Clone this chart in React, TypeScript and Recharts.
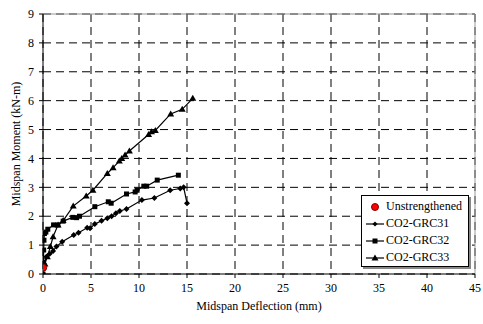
import { LineChart, Line, XAxis, YAxis, CartesianGrid, ReferenceLine, Label } from 'recharts'

const FONT = '"Liberation Serif", "Times New Roman", serif'

const xTicks = [0, 5, 10, 15, 20, 25, 30, 35, 40, 45]
const yTicks = [0, 1, 2, 3, 4, 5, 6, 7, 8, 9]

const unstrX = [0.02]
const unstrY = [0.22]

const grc31X = [0, 0.1, 0.35, 0.7, 1.05, 1.4, 2.0, 3.2, 3.7, 4.6, 4.9, 5.4, 6.1, 6.7, 7.15, 7.6, 8.0, 8.7, 10.3, 11.6, 13.25, 14.3, 14.65, 15.0]
const grc31Y = [0, 0.35, 0.6, 0.7, 0.8, 0.95, 1.12, 1.35, 1.43, 1.6, 1.58, 1.73, 1.84, 1.93, 2.0, 2.1, 2.18, 2.25, 2.56, 2.63, 2.9, 2.96, 3.0, 2.45]

const grc32X = [0, 0.05, 0.07, 0.1, 0.15, 0.3, 0.5, 1.1, 1.55, 2.1, 3.1, 3.5, 3.8, 5.4, 6.8, 7.1, 8.7, 9.6, 9.8, 10.5, 10.8, 11.9, 14.1]
const grc32Y = [0, 0.4, 0.83, 1.17, 1.4, 1.45, 1.55, 1.7, 1.7, 1.83, 1.96, 1.95, 2.0, 2.33, 2.5, 2.45, 2.77, 2.84, 2.9, 3.04, 3.04, 3.25, 3.42]

const grc33X = [0, 0.2, 0.45, 0.77, 1.05, 1.57, 2.1, 3.15, 4.5, 5.2, 6.7, 7.3, 7.95, 8.2, 8.55, 9.0, 11.0, 11.3, 11.7, 13.3, 14.5, 15.6]
const grc33Y = [0, 0.35, 0.6, 0.95, 1.29, 1.7, 1.85, 2.35, 2.7, 2.9, 3.48, 3.68, 3.91, 4.0, 4.12, 4.26, 4.83, 4.92, 4.97, 5.54, 5.7, 6.08]

const toPoints = (xs: number[], ys: number[]) => xs.map((x, i) => ({ x, y: ys[i] }))

const unstr = toPoints(unstrX, unstrY)
const grc31 = toPoints(grc31X, grc31Y)
const grc32 = toPoints(grc32X, grc32Y)
const grc33 = toPoints(grc33X, grc33Y)

const Diamond = (props: any) => {
  const { cx, cy } = props
  if (cx == null || cy == null) return null
  return <path d={`M${cx},${cy - 3} L${cx + 3},${cy} L${cx},${cy + 3} L${cx - 3},${cy} Z`} fill="#000" />
}

const Square = (props: any) => {
  const { cx, cy } = props
  if (cx == null || cy == null) return null
  return <rect x={cx - 2.5} y={cy - 2.5} width={5} height={5} fill="#000" />
}

const Triangle = (props: any) => {
  const { cx, cy } = props
  if (cx == null || cy == null) return null
  return <path d={`M${cx},${cy - 3.5} L${cx + 3.5},${cy + 2.5} L${cx - 3.5},${cy + 2.5} Z`} fill="#000" />
}

const RedDot = (props: any) => {
  const { cx, cy } = props
  if (cx == null || cy == null) return null
  return <circle cx={cx} cy={cy} r={3.5} fill="#ff0000" stroke="#800000" strokeWidth={1} />
}

const legendItems = [
  { name: 'Unstrengthened', kind: 'circle' },
  { name: 'CO2-GRC31', kind: 'diamond' },
  { name: 'CO2-GRC32', kind: 'square' },
  { name: 'CO2-GRC33', kind: 'triangle' },
]

function LegendIcon({ kind }: { kind: string }) {
  return (
    <svg width={20} height={10} style={{ display: 'block' }}>
      {kind !== 'circle' && <line x1={1} y1={5} x2={19} y2={5} stroke="#000" strokeWidth={1.2} />}
      {kind === 'circle' && <circle cx={10} cy={5} r={3.5} fill="#ff0000" stroke="#800000" />}
      {kind === 'diamond' && <path d="M10,2.5 L12.5,5 L10,7.5 L7.5,5 Z" fill="#000" />}
      {kind === 'square' && <rect x={7.5} y={2.5} width={5} height={5} fill="#000" />}
      {kind === 'triangle' && <path d="M10,1.5 L13.5,7.5 L6.5,7.5 Z" fill="#000" />}
    </svg>
  )
}

const tickStyle = { fontSize: 12, fill: '#000', fontFamily: FONT }

export default function App() {
  return (
    <div style={{ position: 'absolute', left: 0, top: 0, width: 483, height: 324, background: '#fff' }}>
      <LineChart width={483} height={324} margin={{ top: 14, right: 8, left: 0, bottom: 0 }}>
        <CartesianGrid stroke="#000" strokeDasharray="8 5" strokeWidth={1} />
        <XAxis
          type="number"
          dataKey="x"
          domain={[0, 45]}
          ticks={xTicks}
          interval={0}
          height={50}
          tick={tickStyle}
          tickSize={4}
          tickMargin={5}
          axisLine={{ stroke: '#000' }}
          tickLine={{ stroke: '#000' }}
          allowDataOverflow
        >
          <Label value="Midspan Deflection (mm)" position="insideBottom" offset={14} style={{ fontSize: 12, fill: '#000', fontFamily: FONT }} />
        </XAxis>
        <YAxis
          type="number"
          domain={[0, 9]}
          ticks={yTicks}
          interval={0}
          width={43}
          tick={tickStyle}
          tickSize={4}
          tickMargin={5}
          axisLine={{ stroke: '#000' }}
          tickLine={{ stroke: '#000' }}
          allowDataOverflow
        >
          <Label value="Midspan Moment (kN-m)" angle={-90} position="center" dx={-6} style={{ fontSize: 12, fill: '#000', fontFamily: FONT, textAnchor: 'middle' }} />
        </YAxis>
        <ReferenceLine y={9} stroke="#999" strokeWidth={1} />
        <ReferenceLine x={45} stroke="#999" strokeWidth={1} />
        <Line data={grc31} dataKey="y" name="CO2-GRC31" stroke="#000" strokeWidth={1.2} dot={<Diamond />} activeDot={false} isAnimationActive={false} />
        <Line data={grc32} dataKey="y" name="CO2-GRC32" stroke="#000" strokeWidth={1.2} dot={<Square />} activeDot={false} isAnimationActive={false} />
        <Line data={grc33} dataKey="y" name="CO2-GRC33" stroke="#000" strokeWidth={1.2} dot={<Triangle />} activeDot={false} isAnimationActive={false} />
        <Line data={unstr} dataKey="y" name="Unstrengthened" stroke="none" dot={<RedDot />} activeDot={false} isAnimationActive={false} />
      </LineChart>
      <div
        style={{
          position: 'absolute',
          left: 361,
          top: 195,
          width: 108,
          height: 72,
          background: '#fff',
          border: '1px solid #000',
          boxShadow: '2px 2px 0 #888',
          fontFamily: FONT,
          fontSize: 12,
          padding: '2px 0 0 3px',
          boxSizing: 'border-box',
        }}
      >
        {legendItems.map((it) => (
          <div key={it.name} style={{ display: 'flex', alignItems: 'center', height: 17 }}>
            <LegendIcon kind={it.kind} />
            <span style={{ marginLeft: 1 }}>{it.name}</span>
          </div>
        ))}
      </div>
    </div>
  )
}
